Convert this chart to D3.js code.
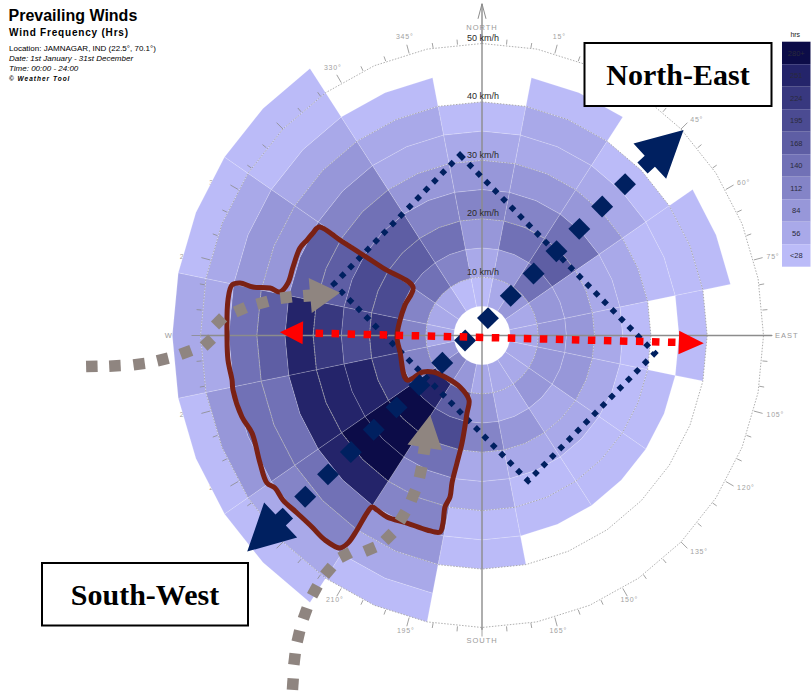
<!DOCTYPE html>
<html>
<head>
<meta charset="utf-8">
<title>Prevailing Winds – Jamnagar</title>
<script src="https://cdn.jsdelivr.net/npm/d3@7/dist/d3.min.js"></script>
<style>
  html, body { margin: 0; padding: 0; background: #fff; }
  svg { display: block; font-family: "Liberation Sans", Arial, sans-serif; }
</style>
</head>
<body>
<svg id="chart" width="812" height="691"></svg>
<script>
// ---------------------------------------------------------------------------
// Wind frequency (hours per year) by direction and 5 km/h speed band.
// Each array starts at the 5-10 km/h band; null = no hours recorded.
// ---------------------------------------------------------------------------
const directionNames    = ["N","NNE","NE","ENE","E","ESE","SE","SSE","S","SSW","SW","WSW","W","WNW","NW","NNW"];
const directionBearings = [0, 22.5, 45, 67.5, 90, 112.5, 135, 157.5, 180, 202.5, 225, 247.5, 270, 292.5, 315, 337.5];
const speedBandEdges    = [5, 10, 15, 20, 25, 30, 35, 40, 45, 50, 55];

const hrsN   = [22, 44, 71, 97, 66, 38, 17];
const hrsNNE = [41, 69, 118, 92, 63, 42, 31, 14];
const hrsNE  = [76, 131, 158, 121, 68, 39, 18];
const hrsENE = [45, 62, 64, 47, 34, 21, 12, 9];
const hrsE   = [47, 66, 60, 36, 26, null, 11];
const hrsESE = [48, 70, 58, 37, 22, 10];
const hrsSE  = [52, 63, 45, 33, 19, 8];
const hrsSSE = [50, 54, 61, 35, 20, 9];
const hrsS   = [55, 78, 99, 50, 30, 17, 7];
const hrsSSW = [80, 160, 170, 128, 104, 90, 66, 40, 16];
const hrsSW  = [100, 245, 300, 290, 262, 240, 131, 96, 45, 19];
const hrsWSW = [75, 100, 215, 230, 240, 238, 130, 118, 62, 24];
const hrsW   = [35, 100, 205, 185, 210, 240, 155, 126, 52, 33];
const hrsWNW = [43, 104, 183, 179, 160, 140, 80, 66, 40, 20];
const hrsNW  = [39, 127, 160, 152, 119, 93, 64, 35, 18, 11];
const hrsNNW = [24, 99, 124, 101, 73, 46, 33, 13];

const sectorHours = [hrsN, hrsNNE, hrsNE, hrsENE, hrsE, hrsESE, hrsSE, hrsSSE,
                     hrsS, hrsSSW, hrsSW, hrsWSW, hrsW, hrsWNW, hrsNW, hrsNNW];

// Legend classes (hours)
const hourBreaks   = [28, 56, 84, 112, 140, 168, 195, 224, 251];
const legendLabels = ["<28", "56", "84", "112", "140", "168", "195", "224", "251", "280+"];

// Speed rings and compass ticks
const ringSpeeds       = [10, 20, 30, 40, 50];
const bearingTicks     = [0,5,10,15,20,25,30,35,40,45,50,55,60,65,70,75,80,85,90,95,100,105,110,115,120,125,130,135,140,145,150,155,160,165,170,175,180,185,190,195,200,205,210,215,220,225,230,235,240,245,250,255,260,265,270,275,280,285,290,295,300,305,310,315,320,325,330,335,340,345,350,355];
const bearingTickLabels = [15, 45, 60, 75, 105, 120, 135, 150, 165, 195, 210, 225, 240, 255, 285, 300, 315, 330, 345];
const compassNames     = ["NORTH", "EAST", "SOUTH", "WEST"];

// Annotation overlays, in km/h (east, north) coordinates of the rose
const axisLoop      = [[-3.9, 30.9], [30.7, -3.0], [8.2, -24.9], [-26.3, 8.8]];
const swNeTrack     = [[-31.4, -27.6], [25.4, 25.9]];
const swNeTips      = [[-41.7, -37.0], [35.8, 35.2]];
const eastWestTrack = [[-28.9, 0.38], [33.7, -1.16]];
const eastWestTips  = [[-35.9, 0.55], [39.4, -1.34]];
const westTrail = [[-69.3,-5.3],[-65.2,-5.2],[-60.9,-4.9],[-56.7,-4.1],[-52.6,-2.9],[-48.7,-1.2],
                   [-46.7,2.4],[-42.9,4.4],[-39.0,5.6],[-34.8,6.5]];
const westTrailTip = [-25.2, 7.3];
const southTrail = [[-33.6,-59.7],[-33.3,-55.4],[-32.6,-51.5],[-31.4,-47.6],[-29.7,-43.7],[-27.3,-40.3],
                    [-24.3,-37.6],[-19.9,-36.6],[-16.6,-34.5],[-14.1,-31.0],[-12.2,-27.4],[-10.9,-23.4]];
const southTrailTip = [-9.2, -13.6];
const dominantZone = [
  [-28.95,18.58],[-25.22,16.35],[-21.67,14.13],[-17.58,11.56],[-12.26,8.30],[-13.68,5.22],[-14.56,2.65],
  [-15.10,-0.26],[-14.56,-2.83],[-13.32,-7.62],[-10.48,-6.25],[-8.70,-6.25],[-6.57,-7.11],[-3.91,-8.82],
  [-2.31,-11.04],[-2.66,-13.27],[-3.55,-18.41],[-4.44,-21.83],[-5.33,-25.26],[-5.68,-27.65],[-6.57,-29.37],
  [-6.93,-32.11],[-7.46,-33.65],[-9.77,-33.30],[-13.32,-32.11],[-16.87,-31.08],[-18.65,-29.88],[-19.54,-29.37],
  [-20.43,-30.39],[-22.20,-33.30],[-23.80,-35.53],[-25.22,-36.39],[-27.89,-35.02],[-30.20,-32.79],[-32.86,-30.39],
  [-35.35,-28.17],[-36.77,-26.11],[-38.19,-25.26],[-39.43,-21.83],[-40.85,-16.70],[-42.63,-13.96],[-44.23,-9.33],
  [-44.40,-7.62],[-45.12,-4.20],[-45.29,-0.26],[-45.12,6.08],[-44.40,8.65],[-42.98,8.99],[-40.67,8.30],
  [-37.66,8.13],[-35.88,7.45],[-34.46,8.99],[-33.57,11.73],[-32.33,14.98],[-31.08,16.35],[-30.02,17.55]
];

// ---------------------------------------------------------------------------
// Scales: the rose is drawn slightly taller than wide (ellipse radii 281.5 / 292)
// ---------------------------------------------------------------------------
const cx = 482, cy = 335.5;
const xS = d3.scaleLinear().domain([-50, 50]).range([cx - 281.5, cx + 281.5]);
const yS = d3.scaleLinear().domain([-50, 50]).range([cy + 292, cy - 292]);
const rad = d => d * Math.PI / 180;
const polar = (deg, speed) => [xS(speed * Math.sin(rad(deg))), yS(speed * Math.cos(rad(deg)))];
const proj = ([e, n]) => [xS(e), yS(n)];
const halfSector = 360 / directionBearings.length / 2;

const palette = ["#bbbbf8", "#a9a9e9", "#9797d9", "#8484c7", "#7171b6", "#5e5ea4",
                 "#4b4b92", "#38387f", "#24246a", "#0c0c48"];
const colour = d3.scaleThreshold().domain(hourBreaks).range(palette);

const svg = d3.select("#chart");
const line = d3.line();

// --- compass labels sit underneath the sectors -----------------------------
const gUnder = svg.append("g").attr("fill", "#a2a2a2").attr("font-size", 7).attr("letter-spacing", 0.8);
bearingTickLabels.forEach(deg => {
  const s = Math.sin(rad(deg)), c = Math.cos(rad(deg));
  const [rx, ry] = polar(deg, 50);
  const off = 13 + (c > 0.8 ? 4 : 0);
  gUnder.append("text")
    .attr("x", rx + s * off).attr("y", ry - c * off).attr("dy", "0.35em")
    .attr("text-anchor", s > 0.55 ? "start" : (s < -0.55 ? "end" : "middle"))
    .text(deg + "°");
});

const gCompass = svg.append("g").attr("fill", "#9a9a9a").attr("font-size", 7.5).attr("letter-spacing", 1);
{
  const [nx, ny] = polar(0, 50), [ex, ey] = polar(90, 50), [sx, sy] = polar(180, 50), [wx, wy] = polar(270, 50);
  gCompass.append("text").attr("x", nx).attr("y", ny - 13.5).attr("text-anchor", "middle").text(compassNames[0]);
  gCompass.append("text").attr("x", ex + 11.5).attr("y", ey).attr("dy", "0.3em").text(compassNames[1]);
  gCompass.append("text").attr("x", sx).attr("y", sy + 15.5).attr("text-anchor", "middle").text(compassNames[2]);
  gCompass.append("text").attr("x", wx - 10).attr("y", wy).attr("dy", "0.3em").attr("text-anchor", "end").text(compassNames[3]);
}

// --- frequency cells (edges have a vertex at each sector edge and centre) ---
const cells = [];
sectorHours.forEach((bands, i) => {
  const b = directionBearings[i];
  bands.forEach((h, j) => {
    if (h == null) return;
    cells.push({ dir: directionNames[i], bearing: b, s0: speedBandEdges[j], s1: speedBandEdges[j + 1], hours: h });
  });
});
svg.append("g").selectAll("path").data(cells).join("path")
  .attr("d", d => line([
    polar(d.bearing - halfSector, d.s0), polar(d.bearing, d.s0), polar(d.bearing + halfSector, d.s0),
    polar(d.bearing + halfSector, d.s1), polar(d.bearing, d.s1), polar(d.bearing - halfSector, d.s1)
  ]) + "Z")
  .attr("fill", d => colour(d.hours))
  .attr("stroke", "#ffffff").attr("stroke-opacity", 0.25).attr("stroke-width", 0.7);

// --- speed rings -------------------------------------------------------------
const ringVerts = d3.range(0, 360, halfSector);
svg.append("g").selectAll("path").data(ringSpeeds).join("path")
  .attr("d", s => line(ringVerts.map(a => polar(a, s))) + "Z")
  .attr("fill", "none").attr("stroke", "#9a9a9a").attr("stroke-width", 0.8)
  .attr("stroke-dasharray", "1.5 1.5");

// --- bearing ticks on the outer ring ----------------------------------------
svg.append("g").selectAll("line").data(bearingTicks).join("line")
  .each(function (deg) {
    const [x0, y0] = polar(deg, 50);
    const len = deg % 15 === 0 ? 9 : 5;
    d3.select(this).attr("x1", x0).attr("y1", y0)
      .attr("x2", x0 + Math.sin(rad(deg)) * len).attr("y2", y0 - Math.cos(rad(deg)) * len);
  })
  .attr("stroke", "#8a8a8a").attr("stroke-width", 0.8);

// --- cross axes with north arrow -------------------------------------------
const gAxis = svg.append("g").attr("stroke", "#8c8c8c").attr("stroke-width", 1.4).attr("fill", "none");
gAxis.append("line").attr("x1", xS(0)).attr("x2", xS(0)).attr("y1", yS(56.8)).attr("y2", yS(-50.4));
gAxis.append("line").attr("x1", xS(-50)).attr("x2", xS(51.5)).attr("y1", yS(0)).attr("y2", yS(0));
gAxis.append("path").attr("stroke-width", 1)
  .attr("d", line([[xS(0) - 4, yS(56.8) + 15], [xS(0), yS(56.8)], [xS(0) + 4, yS(56.8) + 15]]));

// --- speed ring labels ------------------------------------------------------
svg.append("g").attr("font-size", 9).attr("fill", "#2a2a2a").attr("text-anchor", "middle")
  .selectAll("text").data(ringSpeeds).join("text")
  .attr("x", xS(0) + 1).attr("y", s => yS(s) - 2.5)
  .text(s => s + " km/h");

// ---------------------------------------------------------------------------
// Annotation overlays
// ---------------------------------------------------------------------------
const navy = "#002060", red = "#ff0000", taupe = "#8f8580", brick = "#7a2114";

function unit(a, b) { const dx = b[0] - a[0], dy = b[1] - a[1], l = Math.hypot(dx, dy); return [dx / l, dy / l]; }
function arrowShape(tip, dir, headLen, halfW, stemHalf, stemLen) {
  const [ux, uy] = dir, px = -uy, py = ux;
  const at = (a, b) => [tip[0] - ux * a + px * b, tip[1] - uy * a + py * b];
  const pts = [at(0, 0), at(headLen, -halfW)];
  if (stemLen > headLen) pts.push(at(headLen, -stemHalf), at(stemLen, -stemHalf), at(stemLen, stemHalf), at(headLen, stemHalf));
  pts.push(at(headLen, halfW));
  return line(pts) + "Z";
}
function squareAt(g, p, size, angleDeg, fill) {
  g.append("rect").attr("x", -size / 2).attr("y", -size / 2).attr("width", size).attr("height", size)
    .attr("transform", `translate(${p[0]},${p[1]}) rotate(${angleDeg})`).attr("fill", fill);
}
const angleOf = (a, b) => Math.atan2(b[1] - a[1], b[0] - a[0]) * 180 / Math.PI;

// dotted navy loop
svg.append("path").attr("d", line(axisLoop.map(proj)) + "Z")
  .attr("fill", "none").attr("stroke", navy).attr("stroke-width", 5.5).attr("stroke-dasharray", "5.5 6.5");

// brick outline of the dominant region
svg.append("path").attr("d", d3.line().curve(d3.curveCatmullRomClosed)(dominantZone.map(proj)))
  .attr("fill", "none").attr("stroke", brick).attr("stroke-width", 5).attr("stroke-linejoin", "round");

// south-west / north-east diamond track with arrows
{
  const g = svg.append("g");
  const a = proj(swNeTrack[0]), b = proj(swNeTrack[1]);
  const ang = angleOf(a, b);
  d3.range(15).forEach(i => squareAt(g, d3.interpolateArray(a, b)(i / 14), 15.5, ang, navy));
  const sw = proj(swNeTips[0]), ne = proj(swNeTips[1]);
  g.append("path").attr("d", arrowShape(sw, unit(a, sw), 46, 24, 7.5, 56)).attr("fill", navy);
  g.append("path").attr("d", arrowShape(ne, unit(b, ne), 46, 24, 7.5, 56)).attr("fill", navy);
}

// taupe trails with arrowheads
function trail(points, tipPt, headLen) {
  const g = svg.append("g");
  const px = points.map(proj);
  px.forEach((p, i) => {
    const prev = px[Math.max(0, i - 1)], next = i < px.length - 1 ? px[i + 1] : proj(tipPt);
    squareAt(g, p, 11.5, angleOf(prev, next), taupe);
  });
  const tip = proj(tipPt);
  g.append("path").attr("d", arrowShape(tip, unit(px[px.length - 1], tip), headLen, 17.5, 6, headLen + 7)).attr("fill", taupe);
}
trail(westTrail, westTrailTip, 30);
trail(southTrail, southTrailTip, 33);

// red east-west line
{
  const g = svg.append("g");
  const a = proj(eastWestTrack[0]), b = proj(eastWestTrack[1]);
  const ang = angleOf(a, b);
  d3.range(23).forEach(i => squareAt(g, d3.interpolateArray(a, b)(i / 22), 7.5, ang, red));
  const w = proj(eastWestTips[0]), e = proj(eastWestTips[1]);
  g.append("path").attr("d", arrowShape(w, unit(a, w), 23, 11.5, 0, 0)).attr("fill", red);
  g.append("path").attr("d", arrowShape(e, unit(b, e), 25, 11.7, 0, 0)).attr("fill", red);
}

// callout boxes
function callout(x, y, w, h, label) {
  const g = svg.append("g");
  g.append("rect").attr("x", x).attr("y", y).attr("width", w).attr("height", h)
    .attr("fill", "#fff").attr("stroke", "#000").attr("stroke-width", 2);
  g.append("text").attr("x", x + w / 2).attr("y", y + h / 2 + 10.5).attr("text-anchor", "middle")
    .attr("font-family", "'Liberation Serif', 'Times New Roman', serif").attr("font-weight", "bold")
    .attr("font-size", 30).attr("fill", "#000").text(label);
}
callout(584.5, 43, 187, 63, "North-East");
callout(42, 563, 206, 62.5, "South-West");

// ---------------------------------------------------------------------------
// Header
// ---------------------------------------------------------------------------
const head = svg.append("g").attr("fill", "#000");
head.append("text").attr("x", 8.5).attr("y", 21).attr("font-size", 16).attr("font-weight", "bold").text("Prevailing Winds");
head.append("text").attr("x", 9).attr("y", 36).attr("font-size", 10).attr("font-weight", "bold")
  .attr("letter-spacing", 0.8).text("Wind Frequency (Hrs)");
head.append("text").attr("x", 9).attr("y", 50.5).attr("font-size", 8).text("Location: JAMNAGAR, IND (22.5°, 70.1°)");
head.append("text").attr("x", 9).attr("y", 60.5).attr("font-size", 8).attr("font-style", "italic").text("Date: 1st January - 31st December");
head.append("text").attr("x", 9).attr("y", 70.5).attr("font-size", 8).attr("font-style", "italic").text("Time: 00:00 - 24:00");
head.append("text").attr("x", 9).attr("y", 80.5).attr("font-size", 6.5).attr("font-style", "italic").attr("font-weight", "bold")
  .attr("letter-spacing", 1).text("© Weather Tool");

// ---------------------------------------------------------------------------
// Legend
// ---------------------------------------------------------------------------
{
  const lx = 782, ltop = 41.7, rowH = 22.5, lw = 28.5;
  const g = svg.append("g");
  g.append("text").attr("x", lx + lw / 2 - 1).attr("y", 37).attr("text-anchor", "middle")
    .attr("font-size", 7).attr("fill", "#222").text("hrs");
  const rows = d3.range(palette.length).reverse();
  g.selectAll("rect").data(rows).join("rect")
    .attr("x", lx).attr("y", (d, i) => ltop + i * rowH).attr("width", lw).attr("height", rowH)
    .attr("fill", d => palette[d]);
  g.selectAll("text.lab").data(rows).join("text").attr("class", "lab")
    .attr("x", lx + lw / 2).attr("y", (d, i) => ltop + i * rowH + rowH / 2).attr("dy", "0.35em")
    .attr("text-anchor", "middle").attr("font-size", 7.5).attr("fill", "#2a2a3a")
    .text(d => legendLabels[d]);
}
</script>
</body>
</html>
